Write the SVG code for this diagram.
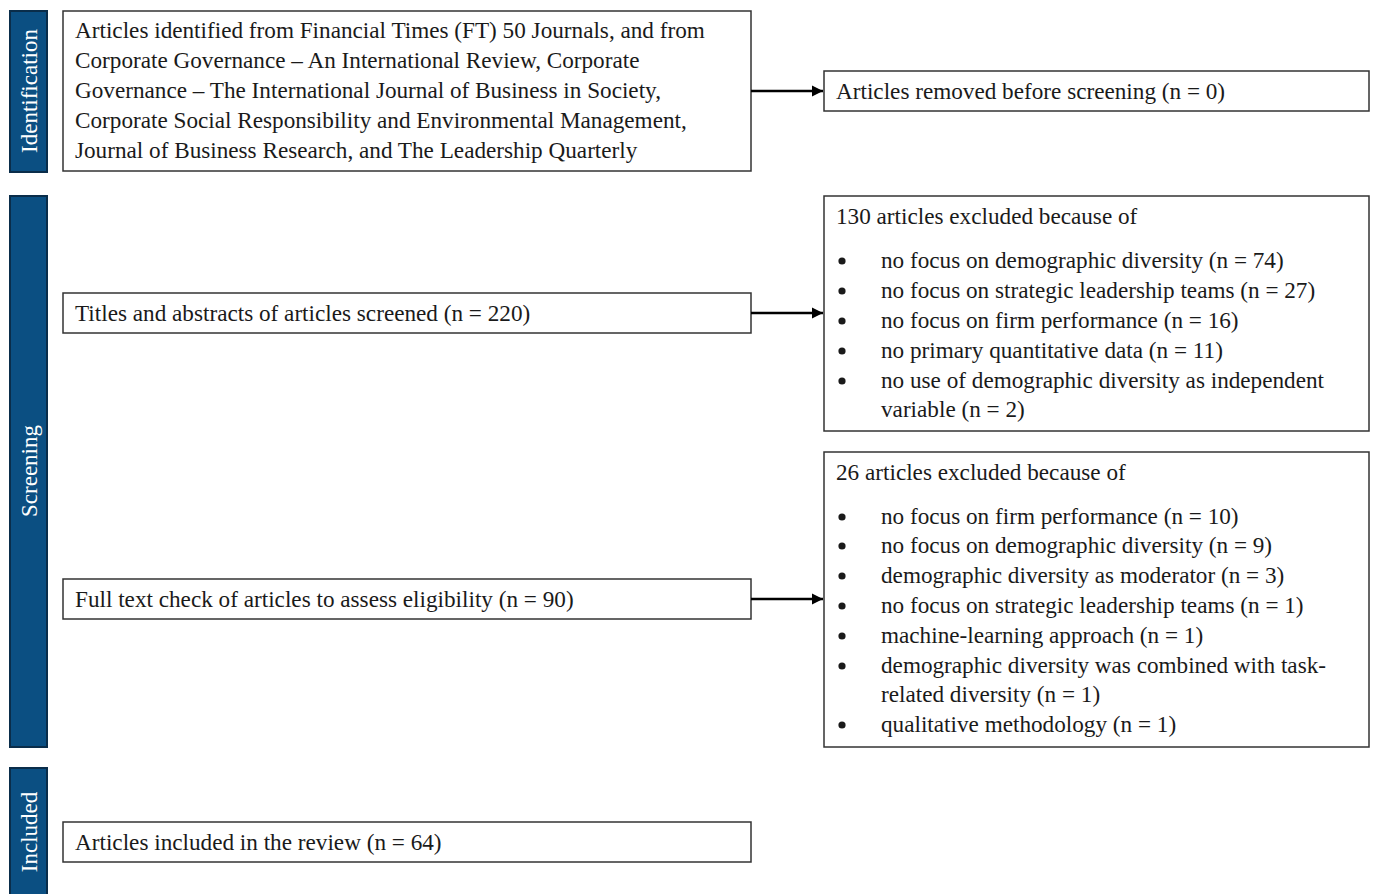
<svg xmlns="http://www.w3.org/2000/svg" width="1375" height="894" viewBox="0 0 1375 894">
<defs>
<style>
.bar{fill:#0b4f82;stroke:#0a2d4a;stroke-width:2}
.bt{font-family:"Liberation Serif",serif;font-size:23px;fill:#ffffff;text-anchor:middle}
.box{fill:#ffffff;stroke:#333333;stroke-width:1.5}
.t{font-family:"Liberation Serif",serif;font-size:23.2px;fill:#1a1a1a}
.b{fill:#1a1a1a}
.c{stroke:#000000;stroke-width:2.5;fill:none}
</style>
<marker id="ah" viewBox="0 0 10 10" refX="10" refY="5" markerWidth="4.5" markerHeight="4.5" orient="auto" markerUnits="strokeWidth">
<path d="M0,0 L10,5 L0,10 Z" fill="#000000"/>
</marker>
</defs>
<rect width="1375" height="894" fill="#ffffff"/>
<g id="bar-identification">
<rect class="bar" x="10" y="11" width="37" height="161"/>
<text class="bt" transform="translate(37,91) rotate(-90)">Identification</text>
</g>
<g id="bar-screening">
<rect class="bar" x="10" y="196" width="37" height="551"/>
<text class="bt" transform="translate(37,471) rotate(-90)">Screening</text>
</g>
<g id="bar-included">
<rect class="bar" x="10" y="768" width="37" height="130"/>
<text class="bt" transform="translate(37,832) rotate(-90)">Included</text>
</g>
<g id="node-identified">
<rect class="box" x="63" y="11" width="688" height="160"/>
<text class="t" x="75" y="38">Articles identified from Financial Times (FT) 50 Journals, and from</text>
<text class="t" x="75" y="68">Corporate Governance – An International Review, Corporate</text>
<text class="t" x="75" y="98">Governance – The International Journal of Business in Society,</text>
<text class="t" x="75" y="128">Corporate Social Responsibility and Environmental Management,</text>
<text class="t" x="75" y="158">Journal of Business Research, and The Leadership Quarterly</text>
</g>
<g id="node-removed">
<rect class="box" x="824" y="71" width="545" height="40"/>
<text class="t" x="836" y="99">Articles removed before screening (n = 0)</text>
</g>
<g id="node-screened">
<rect class="box" x="63" y="293" width="688" height="40"/>
<text class="t" x="75" y="321">Titles and abstracts of articles screened (n = 220)</text>
</g>
<g id="node-excluded130">
<rect class="box" x="824" y="196" width="545" height="235"/>
<text class="t" x="836" y="224">130 articles excluded because of</text>
<circle class="b" cx="842" cy="261" r="3.6"/><text class="t" x="881" y="268">no focus on demographic diversity (n = 74)</text>
<circle class="b" cx="842" cy="291" r="3.6"/><text class="t" x="881" y="298">no focus on strategic leadership teams (n = 27)</text>
<circle class="b" cx="842" cy="321" r="3.6"/><text class="t" x="881" y="328">no focus on firm performance (n = 16)</text>
<circle class="b" cx="842" cy="351" r="3.6"/><text class="t" x="881" y="358">no primary quantitative data (n = 11)</text>
<circle class="b" cx="842" cy="381" r="3.6"/><text class="t" x="881" y="388">no use of demographic diversity as independent</text>
<text class="t" x="881" y="417">variable (n = 2)</text>
</g>
<g id="node-fulltext">
<rect class="box" x="63" y="579" width="688" height="40"/>
<text class="t" x="75" y="607">Full text check of articles to assess eligibility (n = 90)</text>
</g>
<g id="node-excluded26">
<rect class="box" x="824" y="452" width="545" height="295"/>
<text class="t" x="836" y="480">26 articles excluded because of</text>
<circle class="b" cx="842" cy="517" r="3.6"/><text class="t" x="881" y="524">no focus on firm performance (n = 10)</text>
<circle class="b" cx="842" cy="546" r="3.6"/><text class="t" x="881" y="553">no focus on demographic diversity (n = 9)</text>
<circle class="b" cx="842" cy="576" r="3.6"/><text class="t" x="881" y="583">demographic diversity as moderator (n = 3)</text>
<circle class="b" cx="842" cy="606" r="3.6"/><text class="t" x="881" y="613">no focus on strategic leadership teams (n = 1)</text>
<circle class="b" cx="842" cy="636" r="3.6"/><text class="t" x="881" y="643">machine-learning approach (n = 1)</text>
<circle class="b" cx="842" cy="666" r="3.6"/><text class="t" x="881" y="673">demographic diversity was combined with task-</text>
<text class="t" x="881" y="702">related diversity (n = 1)</text>
<circle class="b" cx="842" cy="725" r="3.6"/><text class="t" x="881" y="732">qualitative methodology (n = 1)</text>
</g>
<g id="node-included">
<rect class="box" x="63" y="822" width="688" height="40"/>
<text class="t" x="75" y="850">Articles included in the review (n = 64)</text>
</g>
<g id="connectors">
<line class="c" x1="751" y1="91" x2="823" y2="91" marker-end="url(#ah)"/>
<line class="c" x1="751" y1="313" x2="823" y2="313" marker-end="url(#ah)"/>
<line class="c" x1="751" y1="599" x2="823" y2="599" marker-end="url(#ah)"/>
</g>
</svg>
